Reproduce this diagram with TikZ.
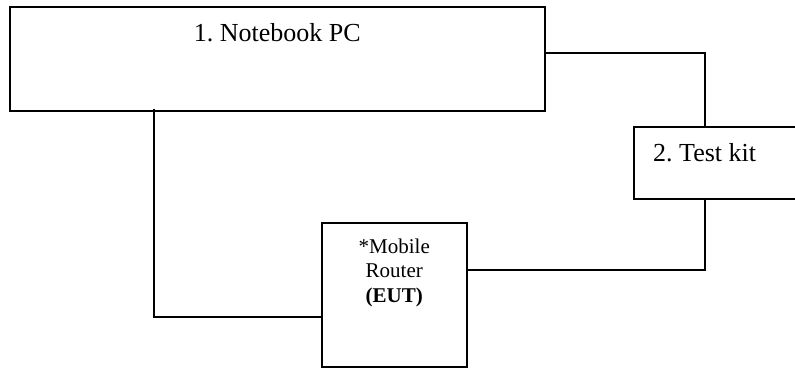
\documentclass[tikz,border=0pt]{standalone}
\usepackage{fontspec}
\setmainfont{Liberation Serif}
\frenchspacing
\begin{document}
\begin{tikzpicture}[x=1pt,y=-1pt,
  box/.style={draw,line width=1.6pt,rectangle,inner sep=0pt,anchor=north west},
  wire/.style={line width=1.6pt},
  big/.style={font=\fontsize{26}{31}\selectfont},
  small/.style={font=\fontsize{21}{24.5}\selectfont,align=center}]
\useasboundingbox (0,0) rectangle (795,367);
\clip (0,0) rectangle (795,367);
\node[box,minimum width=535pt,minimum height=104pt] (nb) at (9,6) {};
\node[box,minimum width=145pt,minimum height=144pt] (router) at (321,222) {};
\node[box,minimum width=200pt,minimum height=72pt] (tk) at (633,126) {};
\node[big,anchor=base,inner sep=0pt] (nbt) at ([yshift=-35pt]nb.north) {1. Notebook PC};
\node[big,anchor=base west,inner sep=0pt] (tkt) at ([xshift=20pt,yshift=-35pt]tk.north west) {2. Test kit};
\node[small,anchor=base,inner sep=0pt] (rt) at ([yshift=-80pt]router.north) {*Mobile\\Router\\\textbf{(EUT)}};
\coordinate (b1) at (154,317);
\coordinate (b2) at (705,53);
\coordinate (b3) at (705,270);
\draw[wire] ([yshift=3pt]nb.south -| b1) -- (b1) -- (router.west |- b1);
\draw[wire] (nb.east |- b2) -- (b2) -- (tk.north -| b2);
\draw[wire] (tk.south -| b3) -- (b3) -- (router.east |- b3);
\end{tikzpicture}
\end{document}
